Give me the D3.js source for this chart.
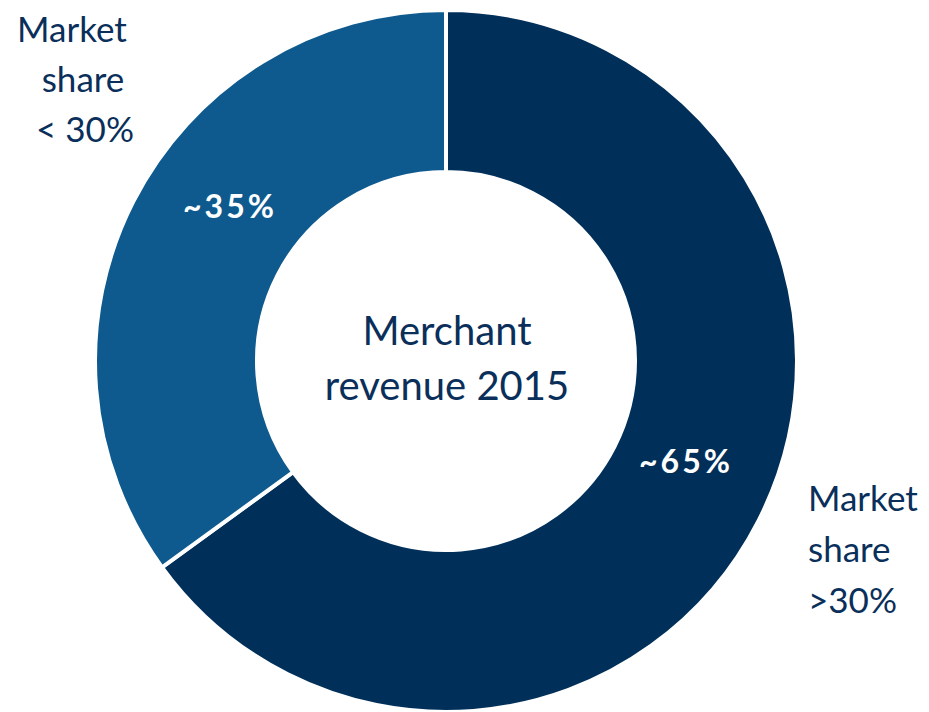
<!DOCTYPE html>
<html><head><meta charset="utf-8">
<script src="https://cdn.jsdelivr.net/npm/d3@7"></script>
<style>body{margin:0;background:#fff;}svg{display:block;}text{font-family:Lato,"Open Sans",sans-serif;}</style>
</head><body>
<svg id="chart" width="929" height="712"></svg>
<script>
const categories = ["Market share >30%", "Market share < 30%"];
const values = [65, 35];
const valueLabels = ["~65%", "~35%"];
const colors = ["#00305a", "#0e5a8e"];
const centerLines = ["Merchant", "revenue 2015"];
const outerLabelLines = [["Market", "share", ">30%"], ["Market", "share", "< 30%"]];

const svg = d3.select("#chart");
const cx = 446, cy = 361, R = 351, r = 189;
const g = svg.append("g").attr("transform", `translate(${cx},${cy})`);
const pie = d3.pie().sort(null).startAngle(0).endAngle(2*Math.PI)
  .value(d => d.v);
const data = values.map((v,i)=>({v, i}));
const arcs = pie(data);
const arc = d3.arc().innerRadius(r).outerRadius(R);
g.selectAll("path").data(arcs).join("path")
  .attr("d", arc).attr("fill", d => colors[d.data.i])
  .attr("stroke", "#fff").attr("stroke-width", 4);

const textColor = "#0a2f5a";
// value labels
const labelPos = [[240, 112], [-216, -143]];
g.selectAll("text.val").data(arcs).join("text").attr("class","val")
  .attr("x", (d,i)=>labelPos[i][0]).attr("y",(d,i)=>labelPos[i][1])
  .attr("text-anchor","middle").attr("fill","#fff").attr("font-weight","bold")
  .attr("font-size",32).attr("letter-spacing",3).text(d=>valueLabels[d.data.i]);

// center
svg.append("text").attr("x",cx).attr("y",345).attr("text-anchor","middle")
  .attr("fill",textColor).attr("font-size",40)
  .selectAll("tspan").data(centerLines).join("tspan")
  .attr("x",cx+1).attr("dy",(d,i)=>i?55:0).text(d=>d);

// outer labels
const right = svg.append("text").attr("x",808).attr("y",511).attr("fill",textColor).attr("font-size",35);
right.selectAll("tspan").data(outerLabelLines[0]).join("tspan").attr("x",808).attr("dy",(d,i)=>i?51:0).text(d=>d);
const left = svg.append("text").attr("y",42).attr("fill",textColor).attr("font-size",35).attr("text-anchor","middle");
left.selectAll("tspan").data(outerLabelLines[1]).join("tspan").attr("x",(d,i)=>[72,83,85][i]).attr("dy",(d,i)=>i?50:0).text(d=>d);
</script>
</body></html>
